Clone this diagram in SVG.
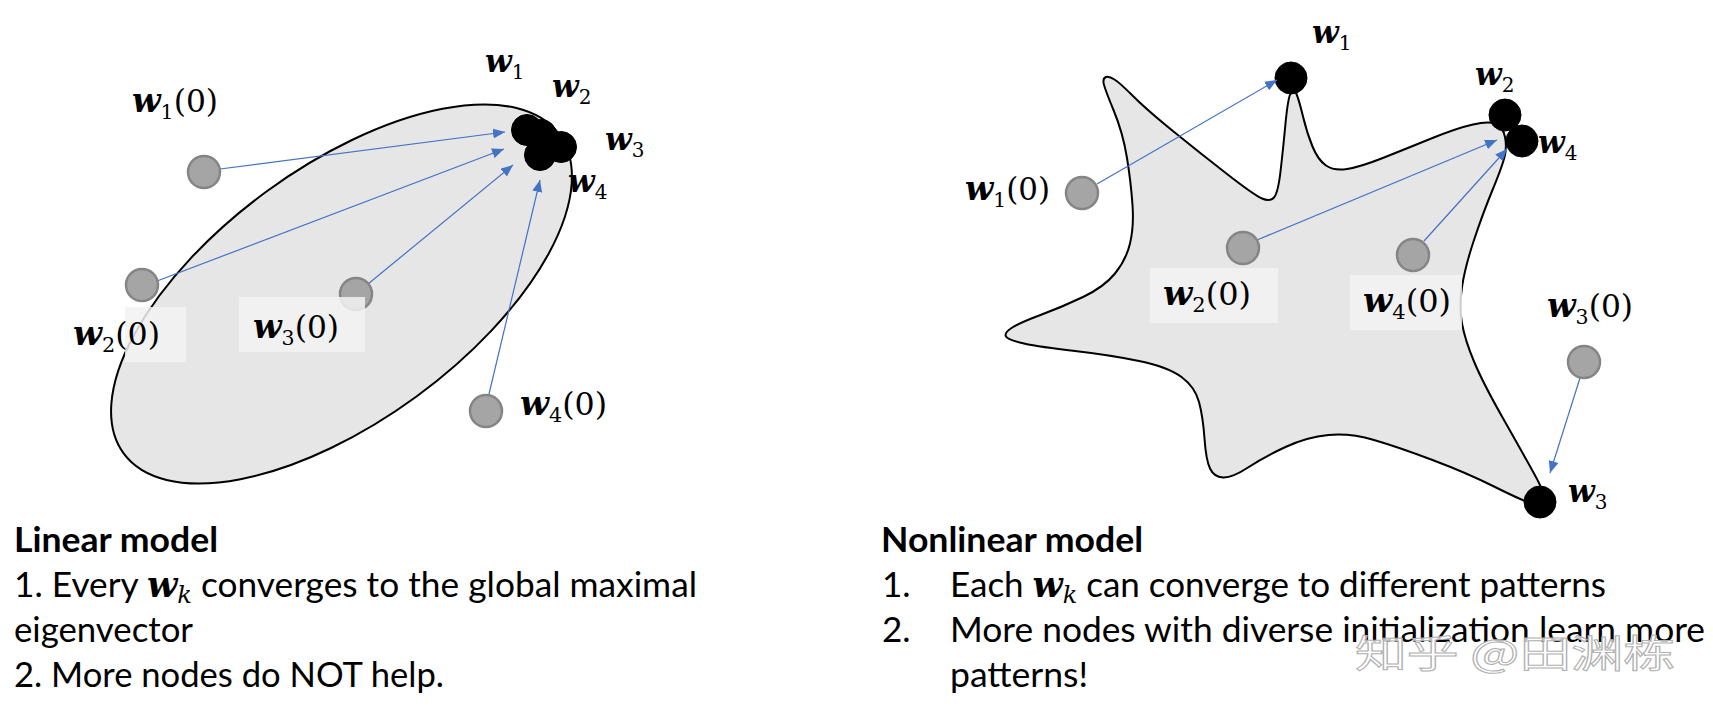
<svg xmlns="http://www.w3.org/2000/svg" width="1713" height="708" viewBox="0 0 1713 708">
<style>
.shape{fill:#e6e6e6;stroke:#000;stroke-width:2}
.gn{fill:#a5a5a5;stroke:#858585;stroke-width:2.5}
.bn{fill:#000;stroke:#000;stroke-width:1}
.arr{stroke:#4472c4;stroke-width:1.2;fill:none;marker-end:url(#ah)}
.bg{fill:#f2f2f2;fill-opacity:0.85}
.lbl{font-family:"DejaVu Serif","Liberation Serif",serif;font-size:32px;fill:#000}
.w{font-weight:bold;font-style:italic;font-size:34px}
.sub{font-size:21px}
.lb2{font-family:"DejaVu Serif","Liberation Serif",serif;font-size:20px;fill:#000}
.w2{font-weight:bold;font-style:italic;font-size:31px}
.body{font-family:Lato,"Open Sans",sans-serif;font-size:35px;fill:#000}
.hd{font-weight:bold}
.mw{font-family:"DejaVu Serif",serif;font-weight:bold;font-style:italic;font-size:35px}
.mk{font-family:"DejaVu Serif",serif;font-style:italic;font-size:24px}
.wm{font-family:"Noto Sans CJK SC",sans-serif;font-size:38px;fill:#fff;fill-opacity:0.75;stroke:#b0b0b0;stroke-width:1}
</style>
<defs>
<marker id="ah" markerUnits="userSpaceOnUse" markerWidth="14" markerHeight="10" refX="12" refY="5" orient="auto">
<path d="M0,0 L12,5 L0,10 Z" fill="#4472c4"/>
</marker>
</defs>
<rect width="1713" height="708" fill="#fff"/>

<!-- Left: linear model -->
<g id="ellipse">
<ellipse class="shape" cx="341.5" cy="294" rx="270" ry="127" transform="rotate(-36.2 341.5 294)"/>
</g>
<g id="left-nodes">
<g id="L-w1"><circle class="bn" cx="527" cy="130" r="15.5"/></g>
<g id="L-w2"><circle class="bn" cx="541" cy="135" r="15.5"/></g>
<g id="L-w3"><circle class="bn" cx="561" cy="147" r="15.5"/></g>
<g id="L-w4"><circle class="bn" cx="540" cy="155" r="15.5"/></g>
</g>
<g id="left-connectors">
<line class="arr" x1="220" y1="169" x2="505" y2="132"/>
<line class="arr" x1="157" y1="281" x2="504" y2="149"/>
<line class="arr" x1="368" y1="284" x2="513" y2="165"/>
<line class="arr" x1="489" y1="394" x2="540" y2="180"/>
</g>
<g id="L-w10"><circle class="gn" cx="204" cy="172" r="16"/>
<text class="lbl" x="132" y="112" textLength="86" lengthAdjust="spacingAndGlyphs"><tspan class="w">w</tspan><tspan class="sub" dy="7">1</tspan><tspan dy="-7">(0)</tspan></text></g>
<g id="L-w20"><circle class="gn" cx="142" cy="285" r="16"/>
<rect class="bg" x="125" y="307" width="61" height="55"/>
<text class="lbl" x="73" y="345" textLength="87" lengthAdjust="spacingAndGlyphs"><tspan class="w">w</tspan><tspan class="sub" dy="7">2</tspan><tspan dy="-7">(0)</tspan></text></g>
<g id="L-w30"><circle class="gn" cx="356" cy="294" r="16"/>
<rect class="bg" x="239" y="297" width="126" height="55"/>
<text class="lbl" x="253" y="338" textLength="86" lengthAdjust="spacingAndGlyphs"><tspan class="w">w</tspan><tspan class="sub" dy="7">3</tspan><tspan dy="-7">(0)</tspan></text></g>
<g id="L-w40"><circle class="gn" cx="486" cy="411" r="16"/>
<text class="lbl" x="520" y="415" textLength="87" lengthAdjust="spacingAndGlyphs"><tspan class="w">w</tspan><tspan class="sub" dy="7">4</tspan><tspan dy="-7">(0)</tspan></text></g>
<g id="L-labels">
<text class="lb2" x="485" y="72"><tspan class="w2">w</tspan><tspan dy="7">1</tspan></text>
<text class="lb2" x="552" y="97"><tspan class="w2">w</tspan><tspan dy="7">2</tspan></text>
<text class="lb2" x="605" y="150"><tspan class="w2">w</tspan><tspan dy="7">3</tspan></text>
<text class="lb2" x="568" y="192"><tspan class="w2">w</tspan><tspan dy="7">4</tspan></text>
</g>

<!-- Right: nonlinear model -->
<g id="star">
<path class="shape" d="M1106,77 Q1109,76 1114.5,79.5 Q1120,83 1133.5,96.5 Q1147,110 1173.5,131.5 Q1200,153 1227,174 Q1254,195 1262,198.5 Q1270,202 1274,197.5 Q1278,193 1280.5,171.5 Q1283,150 1285.5,123.5 Q1288,97 1291,92.5 Q1294,88 1296.5,94 Q1299,100 1303,116.5 Q1307,133 1312.5,146.5 Q1318,160 1326,165.5 Q1334,171 1347,169 Q1360,167 1381.5,158.5 Q1403,150 1430,139 Q1457,128 1473,124.5 Q1489,121 1496,124 Q1503,127 1505,137 Q1507,147 1504.5,157 Q1502,167 1492.5,190 Q1483,213 1474,240 Q1465,267 1462,287 Q1459,307 1462,323.5 Q1465,340 1474,361.5 Q1483,383 1502,416.5 Q1521,450 1534,473.5 Q1547,497 1544.5,502 Q1542,507 1531.5,503.5 Q1521,500 1494,486.5 Q1467,473 1432.5,460 Q1398,447 1374,440 Q1350,433 1328.5,435 Q1307,437 1285.5,447 Q1264,457 1248,467.5 Q1232,478 1223,477.5 Q1214,477 1210,468.5 Q1206,460 1204.5,438.5 Q1203,417 1199,402 Q1195,387 1181.5,377 Q1168,367 1139,361 Q1110,355 1075,351 Q1040,347 1024,343.5 Q1008,340 1006,336.5 Q1004,333 1011.5,328 Q1019,323 1040.5,315 Q1062,307 1083,297 Q1104,287 1115,273.5 Q1126,260 1130,243.5 Q1134,227 1132.5,205 Q1131,183 1127,158 Q1123,133 1113.5,110 Q1104,87 1103.5,82.5 Q1103,78 1106,77 Z"/>
</g>
<g id="right-nodes">
<g id="R-w1"><circle class="bn" cx="1291" cy="78" r="16"/>
<text class="lb2" x="1312" y="43"><tspan class="w2">w</tspan><tspan dy="7">1</tspan></text></g>
<g id="R-w2"><circle class="bn" cx="1505" cy="115" r="16"/>
<text class="lb2" x="1475" y="85"><tspan class="w2">w</tspan><tspan dy="7">2</tspan></text></g>
<g id="R-w4"><circle class="bn" cx="1522" cy="141" r="16"/>
<text class="lb2" x="1538" y="153"><tspan class="w2">w</tspan><tspan dy="7">4</tspan></text></g>
<g id="R-w3"><circle class="bn" cx="1540" cy="502" r="16"/>
<text class="lb2" x="1568" y="502"><tspan class="w2">w</tspan><tspan dy="7">3</tspan></text></g>
</g>
<g id="right-connectors">
<line class="arr" x1="1097" y1="184" x2="1277" y2="80"/>
<line class="arr" x1="1257" y1="240" x2="1497" y2="140"/>
<line class="arr" x1="1424" y1="241" x2="1507" y2="149"/>
<line class="arr" x1="1580" y1="378" x2="1550" y2="473"/>
</g>
<g id="R-w10"><circle class="gn" cx="1082" cy="193" r="16"/>
<text class="lbl" x="965" y="200" textLength="85" lengthAdjust="spacingAndGlyphs"><tspan class="w">w</tspan><tspan class="sub" dy="7">1</tspan><tspan dy="-7">(0)</tspan></text></g>
<g id="R-w20"><circle class="gn" cx="1243" cy="248" r="16"/>
<rect class="bg" x="1150" y="268" width="128" height="55"/>
<text class="lbl" x="1163" y="305" textLength="88" lengthAdjust="spacingAndGlyphs"><tspan class="w">w</tspan><tspan class="sub" dy="7">2</tspan><tspan dy="-7">(0)</tspan></text></g>
<g id="R-w40"><circle class="gn" cx="1413" cy="255" r="16"/>
<rect class="bg" x="1350" y="275" width="112" height="55"/>
<text class="lbl" x="1363" y="312" textLength="88" lengthAdjust="spacingAndGlyphs"><tspan class="w">w</tspan><tspan class="sub" dy="7">4</tspan><tspan dy="-7">(0)</tspan></text></g>
<g id="R-w30"><circle class="gn" cx="1584" cy="362" r="16"/>
<text class="lbl" x="1547" y="317" textLength="86" lengthAdjust="spacingAndGlyphs"><tspan class="w">w</tspan><tspan class="sub" dy="7">3</tspan><tspan dy="-7">(0)</tspan></text></g>

<!-- Captions -->
<g id="caption-left">
<text class="body hd" x="14" y="552" textLength="204" lengthAdjust="spacingAndGlyphs">Linear model</text>
<text class="body" x="14" y="597" textLength="683" lengthAdjust="spacingAndGlyphs">1. Every <tspan class="mw">w</tspan><tspan class="mk" dy="6">k</tspan><tspan dy="-6"> converges to the global maximal</tspan></text>
<text class="body" x="14" y="642" textLength="179" lengthAdjust="spacingAndGlyphs">eigenvector</text>
<text class="body" x="14" y="687" textLength="430" lengthAdjust="spacingAndGlyphs">2. More nodes do NOT help.</text>
</g>
<g id="caption-right">
<text class="body hd" x="881" y="552" textLength="262" lengthAdjust="spacingAndGlyphs">Nonlinear model</text>
<text class="body" x="882" y="597">1.</text>
<text class="body" x="950" y="597" textLength="656" lengthAdjust="spacingAndGlyphs">Each <tspan class="mw">w</tspan><tspan class="mk" dy="6">k</tspan><tspan dy="-6"> can converge to different patterns</tspan></text>
<text class="body" x="882" y="642">2.</text>
<text class="body" x="950" y="642" textLength="755" lengthAdjust="spacingAndGlyphs">More nodes with diverse initialization learn more</text>
<text class="body" x="950" y="687" textLength="138" lengthAdjust="spacingAndGlyphs">patterns!</text>
<text class="wm" x="1355" y="667" textLength="320" lengthAdjust="spacingAndGlyphs">知乎 @田渊栋</text>
</g>
</svg>
